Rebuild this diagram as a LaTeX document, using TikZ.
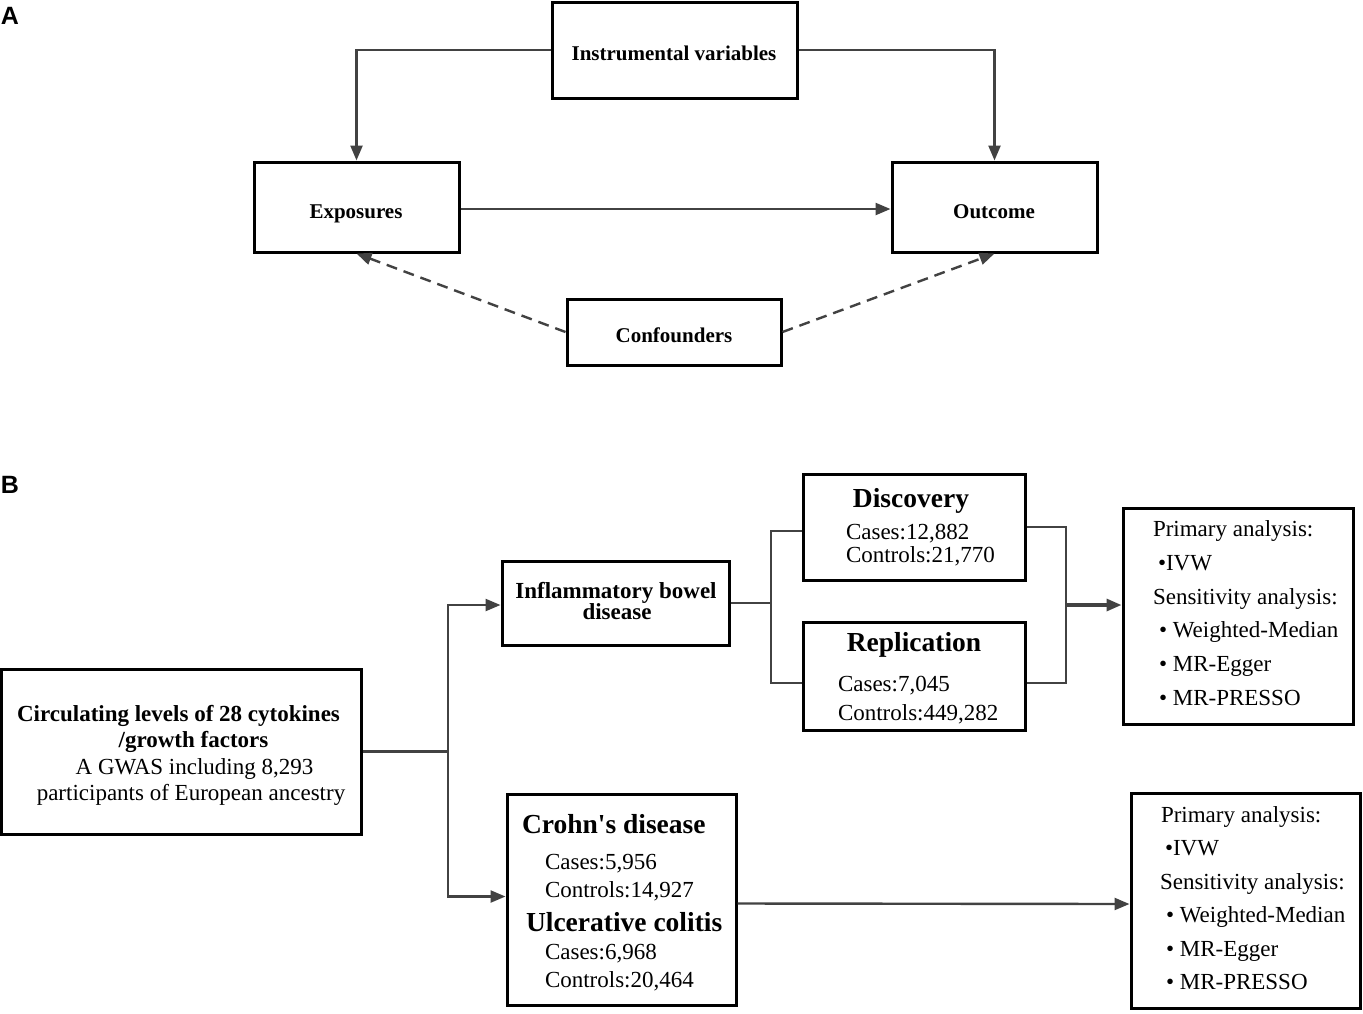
\documentclass[tikz,border=0pt]{standalone}
\usepackage{fontspec}
\setmainfont{Liberation Serif}[Ligatures=TeXOff]
\newfontfamily\labelfont{Liberation Sans}
\usetikzlibrary{arrows.meta,calc}
\begin{document}
\begin{tikzpicture}[x=1pt,y=-1pt,
  box/.style={draw=black,line width=3pt,rectangle,inner sep=0pt,fill=white},
  conn/.style={draw=black!74,line width=2.4pt},
  arr/.style={conn,-{Triangle[length=15pt,width=12pt]}},
  dashconn/.style={arr,dash pattern=on 11pt off 7pt},
  ta/.style={inner sep=0pt,outer sep=0pt,font=\fontsize{21}{24}\selectfont\bfseries},
  tb/.style={inner sep=0pt,outer sep=0pt,font=\fontsize{23}{26}\selectfont\bfseries},
  tbig/.style={inner sep=0pt,outer sep=0pt,font=\fontsize{27.5}{30}\selectfont\bfseries},
  tr/.style={inner sep=0pt,outer sep=0pt,font=\fontsize{23}{26}\selectfont},
  plab/.style={inner sep=0pt,outer sep=0pt,font=\fontsize{25}{28}\selectfont\labelfont\bfseries},
]
\useasboundingbox (0,0) rectangle (1363,1013);

% ---------- Panel A ----------
\node[plab,anchor=base west] (la) at (1,24) {A};
\node[box,minimum width=245pt,minimum height=96pt] (iv) at (674.5,50) {};
\node[box,minimum width=205pt,minimum height=90pt] (exp) at (356.5,207) {};
\node[box,minimum width=205pt,minimum height=90pt] (out) at (994.5,207) {};
\node[box,minimum width=214pt,minimum height=66pt] (conf) at (674,332) {};

\node[ta,anchor=base] (tiv) at (674,60) {Instrumental variables};
\node[ta,anchor=base] (texp) at (356,218) {Exposures};
\node[ta,anchor=base] (tout) at (994,218) {Outcome};
\node[ta,anchor=base] (tconf) at (674,342) {Confounders};

\draw[arr] (iv.west) -| (exp.north);
\draw[arr] (iv.east) -| (out.north);
\draw[arr] ($(exp.east)+(0,2)$) -- ($(out.west)+(0,2)$);
\draw[dashconn] (conf.west) -- (exp.south);
\draw[dashconn] (conf.east) -- (out.south);

% ---------- Panel B ----------
\node[plab,anchor=base west] (lb) at (1,493) {B};

\node[box,minimum width=360pt,minimum height=165pt] (circ) at (181,751.5) {};
\node[box,minimum width=227pt,minimum height=84pt] (ibd) at (615.5,603) {};
\node[box,minimum width=229pt,minimum height=211pt] (cd) at (621.5,899.5) {};
\node[box,minimum width=222pt,minimum height=106pt] (disc) at (914,527) {};
\node[box,minimum width=222pt,minimum height=108pt] (rep) at (914,676) {};
\node[box,minimum width=230pt,minimum height=216pt] (res1) at (1238,616) {};
\node[box,minimum width=229pt,minimum height=215pt] (res2) at (1245.5,900.5) {};

% junctions
\coordinate (j1) at (448,751.5);
\coordinate (j2) at (771,603);
\coordinate (j3) at (1066,605);

\draw[conn] (circ.east) -- (j1);
\draw[arr] (j1) |- ($(ibd.west)+(0,2)$);
\draw[arr] (j1) |- ($(cd.west)+(0,-3)$);
\draw[conn] (ibd.east) -- (j2);
\draw[conn] ($(disc.west)+(0,4)$) -| (j2) |- ($(rep.west)+(0,7)$);
\draw[conn] (disc.east) -| (j3) |- ($(rep.east)+(0,7)$);
\draw[arr,line width=3.2pt] (j3) -- (j3 -| res1.west);
\draw[arr] ($(cd.east)+(0,4)$) -- ($(res2.west)+(0,3.5)$);

% texts
\node[tb,anchor=base] (c1) at (178.5,721) {Circulating levels of 28 cytokines};
\node[tb,anchor=base] (c2) at (193.5,747) {/growth factors};
\node[tr,anchor=base] (c3) at (194.5,774) {A GWAS including 8,293};
\node[tr,anchor=base] (c4) at (191,800) {participants of European ancestry};

\node[tb,anchor=base] (i1) at (616,598) {Inflammatory bowel};
\node[tb,anchor=base] (i2) at (617,619) {disease};

\node[tbig,anchor=base] (d0) at (911,507) {Discovery};
\node[tr,anchor=base west] (d1) at (846,539) {Cases:12,882};
\node[tr,anchor=base west] (d2) at (846,562) {Controls:21,770};

\node[tbig,anchor=base] (r0) at (914,651) {Replication};
\node[tr,anchor=base west] (r1) at (838,691) {Cases:7,045};
\node[tr,anchor=base west] (r2) at (838,720) {Controls:449,282};

\node[tbig,anchor=base west] (k0) at (522,833) {Crohn's disease};
\node[tr,anchor=base west] (k1) at (545,869) {Cases:5,956};
\node[tr,anchor=base west] (k2) at (545,897) {Controls:14,927};
\node[tbig,anchor=base west] (u0) at (526,931) {Ulcerative colitis};
\node[tr,anchor=base west] (u1) at (545,959) {Cases:6,968};
\node[tr,anchor=base west] (u2) at (545,987) {Controls:20,464};

\node[tr,anchor=base west] (p1) at (1153,536) {Primary analysis:};
\node[tr,anchor=base west] (p2) at (1158,570) {•IVW};
\node[tr,anchor=base west] (p3) at (1153,604) {Sensitivity analysis:};
\node[tr,anchor=base west] (p4) at (1159,637) {• Weighted-Median};
\node[tr,anchor=base west] (p5) at (1159,671) {• MR-Egger};
\node[tr,anchor=base west] (p6) at (1159,705) {• MR-PRESSO};

\node[tr,anchor=base west] (q1) at (1161,822) {Primary analysis:};
\node[tr,anchor=base west] (q2) at (1165,855) {•IVW};
\node[tr,anchor=base west] (q3) at (1160,889) {Sensitivity analysis:};
\node[tr,anchor=base west] (q4) at (1166,922) {• Weighted-Median};
\node[tr,anchor=base west] (q5) at (1166,956) {• MR-Egger};
\node[tr,anchor=base west] (q6) at (1166,989) {• MR-PRESSO};
\end{tikzpicture}
\end{document}
